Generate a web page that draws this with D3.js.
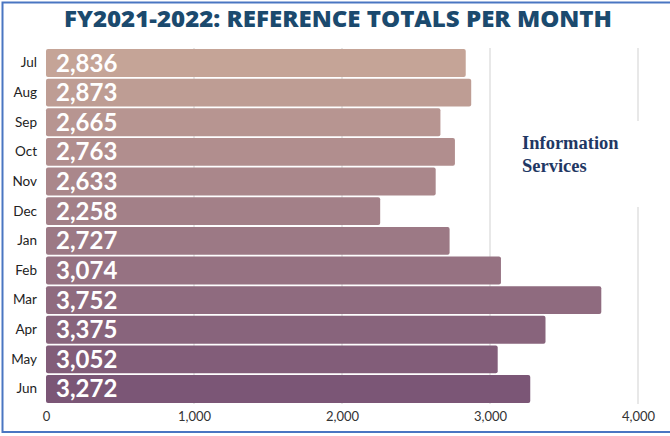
<!DOCTYPE html>
<html><head><meta charset="utf-8">
<script src="https://cdn.jsdelivr.net/npm/d3@7"></script>
<style>html,body{margin:0;padding:0;background:#fff;}svg{display:block;}</style>
</head><body>
<div id="chart"></div>
<script>
const months = ["Jul","Aug","Sep","Oct","Nov","Dec","Jan","Feb","Mar","Apr","May","Jun"];
const totals = [2836,2873,2665,2763,2633,2258,2727,3074,3752,3375,3052,3272];
const tickValues = [0,1000,2000,3000,4000];
const title = "FY2021-2022: REFERENCE TOTALS PER MONTH";
const noteLines = ["Information","Services"];

const W = 670, H = 436;
const svg = d3.select("#chart").append("svg").attr("width", W).attr("height", H);

const x = d3.scaleLinear().domain([0,4000]).range([46,638]);
const y = d3.scaleBand().domain(months).range([48.5,403.5]).paddingInner(0.06).paddingOuter(0.02);
const color = d3.scaleLinear().domain([0, months.length-1]).range(["#c5a497","#7b5676"]).interpolate(d3.interpolateLab);

// border
svg.append("rect").attr("x",2.5).attr("y",2.5).attr("width",W+10).attr("height",429.5)
  .attr("fill","none").attr("stroke","#4a76c2").attr("stroke-width",2);

// title
svg.append("text").attr("x",338).attr("y",27).attr("text-anchor","middle")
  .attr("font-family","Open Sans, sans-serif").attr("font-weight",800).attr("font-size",22)
  .attr("fill","#1b4a6e").attr("textLength",548).attr("lengthAdjust","spacingAndGlyphs")
  .text(title);

// gridlines
svg.append("g").selectAll("line").data(tickValues.filter(d=>d>0)).join("line")
  .attr("x1",d=>x(d)).attr("x2",d=>x(d)).attr("y1",48).attr("y2",404)
  .attr("stroke","#d9d9d9").attr("stroke-width",1.2);

// white box behind note (breaks the 4,000 gridline)
svg.append("rect").attr("x",505).attr("y",121).attr("width",160).attr("height",86).attr("fill","#fff");
const note = svg.append("text").attr("x",522).attr("font-family","Liberation Serif, Times New Roman, serif")
  .attr("font-weight","bold").attr("font-size",18.5).attr("fill","#1f3864");
note.selectAll("tspan").data(noteLines).join("tspan").attr("x",522).attr("y",(d,i)=>149+i*23).text(d=>d);

// bars
svg.append("g").selectAll("rect").data(totals).join("rect")
  .attr("x",x(0)).attr("y",(d,i)=>y(months[i])).attr("width",d=>x(d)-x(0)).attr("height",y.bandwidth())
  .attr("rx",2).attr("fill",(d,i)=>color(i));

// value labels
const fmt = d3.format(",");
svg.append("g").selectAll("text").data(totals).join("text")
  .attr("x",56).attr("y",(d,i)=>y(months[i])+y.bandwidth()/2+8.5)
  .attr("font-family","Lato, sans-serif").attr("font-weight","bold").attr("font-size",24)
  .attr("fill","#fff").text(d=>fmt(d));

// y axis labels
const yAxis = d3.axisLeft(y).tickSize(0).tickPadding(0);
const yg = svg.append("g").attr("transform","translate(37,0)").call(yAxis);
yg.select(".domain").remove();
yg.selectAll("text").attr("font-family","Lato, sans-serif").attr("font-size",13.5).attr("fill","#222");

// x axis labels
const xAxis = d3.axisBottom(x).tickValues(tickValues).tickFormat(fmt).tickSize(0).tickPadding(0);
const xg = svg.append("g").attr("transform","translate(0,412)").call(xAxis);
xg.select(".domain").remove();
xg.selectAll("text").attr("font-family","Lato, sans-serif").attr("font-size",13).attr("fill","#333");
</script>
</body></html>
